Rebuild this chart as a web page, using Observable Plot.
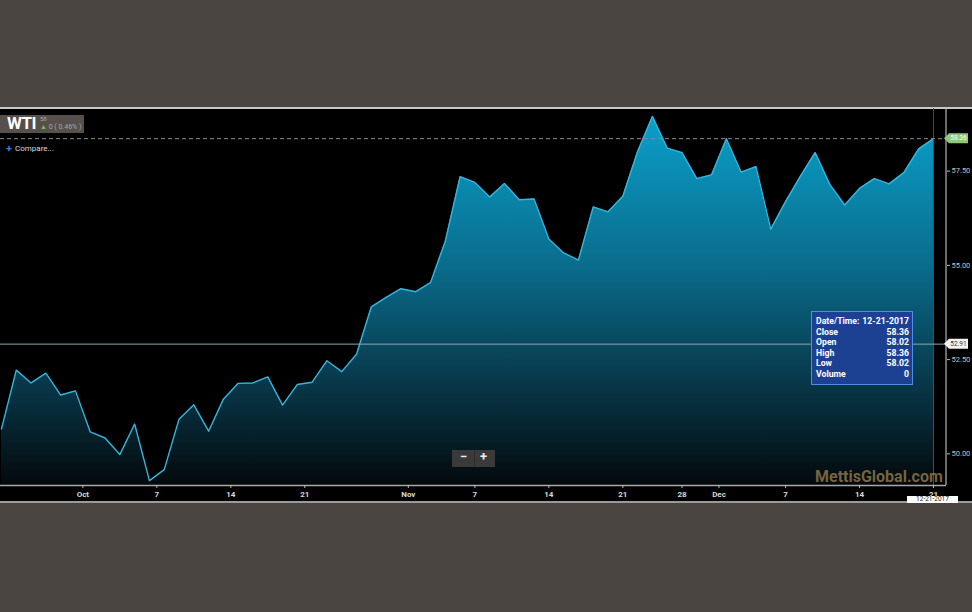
<!DOCTYPE html>
<html>
<head>
<meta charset="utf-8">
<script src="https://cdn.jsdelivr.net/npm/d3@7"></script>
<script src="https://cdn.jsdelivr.net/npm/@observablehq/plot@0.6"></script>
<style>
html,body{margin:0;padding:0;background:#4a4540;width:972px;height:612px;overflow:hidden;font-family:Roboto,"Liberation Sans",sans-serif;}
#panel{position:absolute;left:0;top:107px;width:972px;height:396px;background:#000;border-top:2px solid #c8c8c8;border-bottom:2px solid #9a9a9a;box-sizing:border-box;}
#chart{position:absolute;left:0;top:0;}
.ov{position:absolute;white-space:nowrap;}
#sym{left:0;top:115px;width:84px;height:18px;background:#55504b;}
#sym .name{position:absolute;left:7px;top:-2px;font:bold 17px Roboto,sans-serif;color:#fff;letter-spacing:-0.5px;}
#sym .px{position:absolute;left:40px;top:0px;font:6px Roboto,sans-serif;color:#aaa;}
#sym .chg{position:absolute;left:40px;top:8px;font:7px Roboto,sans-serif;color:#a8a8a8;}
#sym .chg b{color:#7cc142;font-size:7px;}
#compare{left:6px;top:141px;font:8px Roboto,sans-serif;color:#ddd;}
#compare span{color:#3a7bd5;font-weight:bold;font-size:11px;margin-right:3px;position:relative;top:1px;}
#tip{left:811px;top:311px;width:93px;height:67px;background:#1d4192;border:1.5px solid #4d8fe0;padding:4px 3px 1px 4px;box-sizing:content-box;font:bold 8.7px Roboto,sans-serif;color:#fff;}
#tip table{border-collapse:collapse;width:93px;}
#tip td{padding:0;line-height:10.6px;}
#tip td.v{text-align:right;}
#zoom{left:452px;top:450px;width:43px;height:17px;background:#3a3a3a;font:bold 13px Roboto,sans-serif;color:#eee;}
#zoom span{position:absolute;top:-1px;}
#wm{left:815px;top:467px;font:bold 16px Roboto,sans-serif;color:rgba(140,118,72,0.85);}
#datebox{left:907px;top:496px;width:51px;height:7px;background:#fff;font:6.5px Roboto,sans-serif;color:#222;text-align:center;line-height:7px;}
</style>
</head>
<body>
<div id="panel"></div>
<div id="chart"></div>
<script>
// ---- data ----
const dates = [
  "2017-09-22","2017-09-25","2017-09-26","2017-09-27","2017-09-28","2017-09-29",
  "2017-10-02","2017-10-03","2017-10-04","2017-10-05","2017-10-06",
  "2017-10-09","2017-10-10","2017-10-11","2017-10-12","2017-10-13",
  "2017-10-16","2017-10-17","2017-10-18","2017-10-19","2017-10-20",
  "2017-10-23","2017-10-24","2017-10-25","2017-10-26","2017-10-27",
  "2017-10-30","2017-10-31","2017-11-01","2017-11-02","2017-11-03",
  "2017-11-06","2017-11-07","2017-11-08","2017-11-09","2017-11-10",
  "2017-11-13","2017-11-14","2017-11-15","2017-11-16","2017-11-17",
  "2017-11-20","2017-11-21","2017-11-22","2017-11-24",
  "2017-11-27","2017-11-28","2017-11-29","2017-11-30","2017-12-01",
  "2017-12-04","2017-12-05","2017-12-06","2017-12-07","2017-12-08",
  "2017-12-11","2017-12-12","2017-12-13","2017-12-14","2017-12-15",
  "2017-12-18","2017-12-19","2017-12-20","2017-12-21"
];
const closes = [
  50.66,52.22,51.88,52.14,51.56,51.67,
  50.58,50.42,49.98,50.79,49.29,
  49.58,50.92,51.30,50.60,51.45,
  51.87,51.88,52.04,51.29,51.84,
  51.90,52.47,52.18,52.64,53.90,
  54.15,54.38,54.30,54.54,55.64,
  57.35,57.20,56.81,57.17,56.74,
  56.76,55.70,55.33,55.14,56.55,
  56.42,56.83,58.02,58.95,
  58.11,57.99,57.30,57.40,58.36,
  57.47,57.62,55.96,56.69,57.36,
  57.99,57.14,56.60,57.04,57.30,
  57.16,57.46,58.09,58.36
];
const tipLabels = ["Close","Open","High","Low","Volume"];
const tipValues = ["58.36","58.02","58.36","58.02","0"];
const tipDate = "12-21-2017";
const crosshairValue = 52.91;
const yTicks = [50, 52.5, 55, 57.5];
const yDomain = [49.16, 59.16];
const tickDates = ["2017-10-01","2017-10-07","2017-10-14","2017-10-21","2017-11-01","2017-11-07","2017-11-14","2017-11-21","2017-11-28","2017-12-01","2017-12-07","2017-12-14","2017-12-21"];
const tickLabels = ["Oct","7","14","21","Nov","7","14","21","28","Dec","7","14","21"];

// ---- derived ----
const data = dates.map((d, i) => ({i, date: d, close: closes[i]}));
const last = data[data.length - 1];
function tickPos(ds) {
  const isMonth = ds.endsWith("-01");
  const k = dates.findIndex(d => d >= ds);
  if (!isMonth && dates[k] === ds) return k;
  return k - 0.5;
}
const xTicks = tickDates.map(tickPos);
const labelOf = new Map(xTicks.map((p, j) => [p, tickLabels[j]]));

const defs = () => {
  const s = d3.create("svg:defs");
  const g = s.append("linearGradient").attr("id", "wtiGrad")
    .attr("gradientUnits", "userSpaceOnUse").attr("x1", 0).attr("x2", 0).attr("y1", 108).attr("y2", 485);
  [[0, "#0aa2cd"], [0.4, "#0a6f8f"], [0.75, "#083445"], [1, "#03090c"]].forEach(([o, c]) =>
    g.append("stop").attr("offset", o).attr("stop-color", c));
  return s.node();
};

function overlay(index, scales, values, dimensions) {
  const {width, height, marginRight, marginTop, marginBottom} = dimensions;
  const xr = width - marginRight;
  const g = d3.create("svg:g");
  g.append("line").attr("x1", xr).attr("x2", xr).attr("y1", marginTop).attr("y2", height - marginBottom)
    .attr("stroke", "#b5b5b5").attr("stroke-width", 1.2);
  const tag = (v, fill, color) => {
    const y = scales.y(v);
    g.append("path")
      .attr("d", `M${xr - 2},${y} L${xr + 3},${y - 5} H${xr + 22} V${y + 5} H${xr + 3} Z`)
      .attr("fill", fill);
    g.append("text").attr("x", xr + 12.5).attr("y", y).attr("dy", "0.35em")
      .attr("text-anchor", "middle").attr("font-size", 6.5).attr("fill", color).text(v.toFixed(2));
  };
  tag(last.close, "#8cc97a", "#ffffff");
  tag(crosshairValue, "#f2f2f2", "#333333");
  return g.node();
}

const chart = Plot.plot({
  width: 972,
  height: 612,
  marginTop: 108,
  marginBottom: 127,
  marginLeft: 0,
  marginRight: 26,
  style: {background: "transparent", color: "#d2d2d2", fontFamily: "Roboto, sans-serif", overflow: "visible"},
  x: {domain: [0, 63], range: [1, 933], axis: null, label: null},
  y: {domain: yDomain, axis: null, label: null},
  marks: [
    defs,
    Plot.areaY(data, {x: "i", y1: yDomain[0], y2: "close", fill: "url(#wtiGrad)"}),
    Plot.lineY(data, {x: "i", y: "close", stroke: "#36b4dc", strokeWidth: 1.4}),
    Plot.ruleX([last.i], {stroke: "#4a4a4a", strokeWidth: 1}),
    Plot.ruleY([last.close], {stroke: "#8a8a8a", strokeDasharray: "4,3", strokeWidth: 1}),
    Plot.ruleY([crosshairValue], {stroke: "#8fa6ad", strokeWidth: 1}),
    Plot.ruleY([yDomain[0]], {stroke: "#a8a8a8", strokeWidth: 1.5}),
    Plot.axisX(xTicks, {anchor: "bottom", label: null, tickFormat: d => labelOf.get(d), tickSize: 3, tickPadding: 3,
      fontSize: 8, fontWeight: "bold", fill: "#d8d8d8", stroke: "#bbb"}),
    Plot.axisY(yTicks, {anchor: "right", label: null, tickFormat: d => d.toFixed(2), tickSize: 3, tickPadding: 2,
      fontSize: 7.5, fill: "#c0c0c0", stroke: "#bbb"}),
    overlay
  ]
});
chart.id = "svgchart";
document.getElementById("chart").appendChild(chart);

// ---- HTML overlays (text from data) ----
const body = document.body;
function add(html, id) {
  const d = document.createElement("div");
  d.className = "ov"; d.id = id; d.innerHTML = html; body.appendChild(d); return d;
}
add(`<span class="name">WTI</span><span class="px">58</span><span class="chg"><b>&#9650;</b> 0 ( 0.46% )</span>`, "sym");
add(`<span>+</span>Compare...`, "compare");
add(`<table><tr><td>Date/Time:&nbsp;</td><td class="v">${tipDate}</td></tr>` +
  tipLabels.map((l, k) => `<tr><td>${l}</td><td class="v">${tipValues[k]}</td></tr>`).join("") + `</table>`, "tip");
add(`<span style="left:8px">&minus;</span><span style="left:22px;top:0;width:1px;height:17px;background:#2c2c2c"></span><span style="left:28px">+</span>`, "zoom");
add(`MettisGlobal.com`, "wm");
add(tipDate, "datebox");
</script>
</body>
</html>
